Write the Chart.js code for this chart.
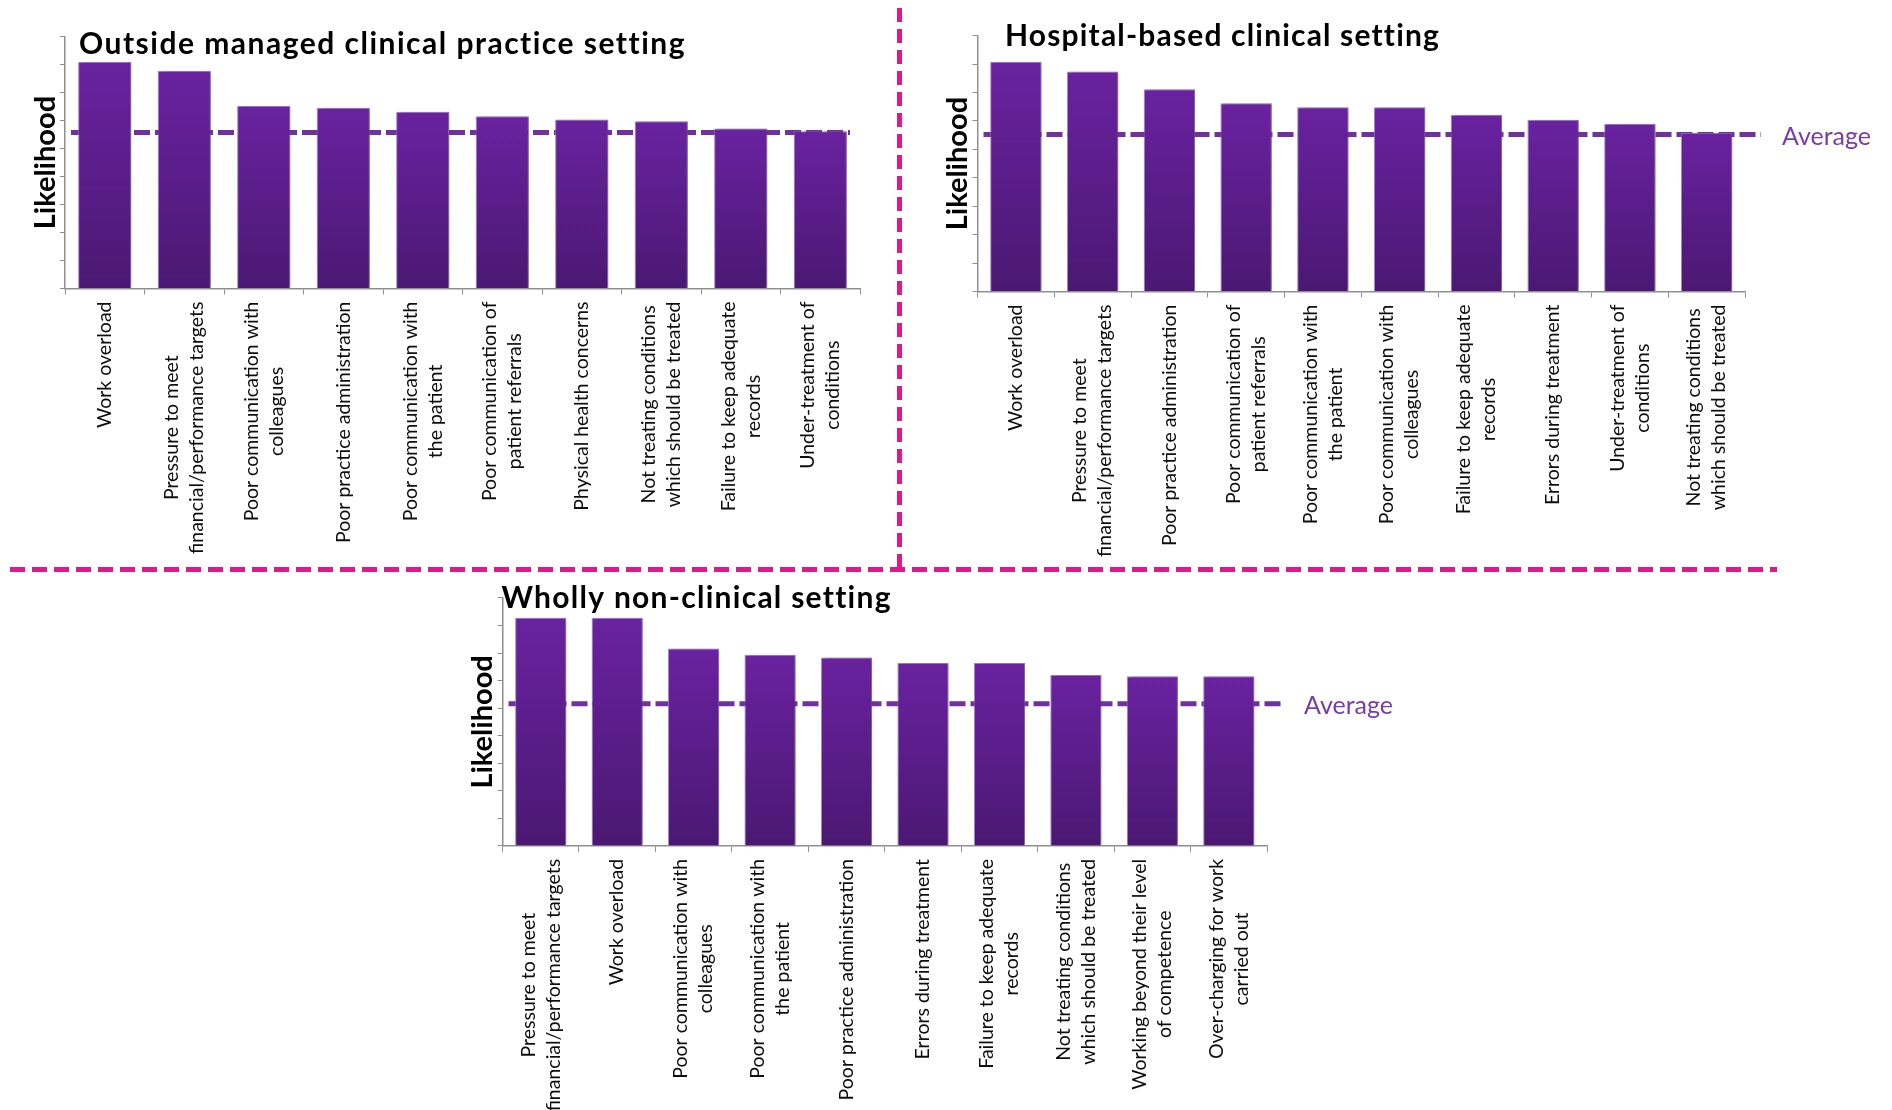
<!DOCTYPE html>
<html lang="en">

<head>
    <meta charset="UTF-8">
    <title>Likelihood of concerns by setting</title>
    <script src="https://cdn.jsdelivr.net/npm/chart.js"></script>
    <style>
        body {
            margin: 0;
            width: 1892px;
            height: 1110px;
            background: #fff;
            position: relative;
            overflow: hidden;
            font-family: Lato, sans-serif;
        }

        .panel {
            position: absolute;
        }

        /* magenta dashed dividers between the three panels */
        .divider-v {
            position: absolute;
            left: 897px;
            top: 8px;
            width: 5px;
            height: 564px;
            background: repeating-linear-gradient(to bottom, #dc1a8e 0 14px, transparent 14px 21px);
        }

        .divider-h {
            position: absolute;
            left: 10px;
            top: 567px;
            width: 1767px;
            height: 5px;
            background: repeating-linear-gradient(to right, #dc1a8e 0 15px, transparent 15px 22px);
        }
    </style>
</head>

<body>
    <div class="panel" style="left:0;top:0;width:900px;height:580px"><canvas id="outsideChart"></canvas></div>
    <div class="panel" style="left:900px;top:0;width:992px;height:580px"><canvas id="hospitalChart"></canvas></div>
    <div class="panel" style="left:400px;top:570px;width:1000px;height:540px"><canvas id="nonClinicalChart"></canvas></div>
    <div class="divider-v"></div>
    <div class="divider-h"></div>

    <script>
        // likelihood scale
        const yMax = 4.5;
        const yStep = 0.5;

        // Outside managed clinical practice setting
        const outsideLabels = [
            'Work overload',
            ['Pressure to meet', 'financial/performance targets'],
            ['Poor communication with', 'colleagues'],
            'Poor practice administration',
            ['Poor communication with', 'the patient'],
            ['Poor communication of', 'patient referrals'],
            'Physical health concerns',
            ['Not treating conditions', 'which should be treated'],
            ['Failure to keep adequate', 'records'],
            ['Under-treatment of', 'conditions']
        ];
        const outsideValues = [4.05, 3.89, 3.26, 3.23, 3.16, 3.08, 3.02, 2.99, 2.86, 2.81];
        const outsideAverage = 2.79;

        // Hospital-based clinical setting
        const hospitalLabels = [
            'Work overload',
            ['Pressure to meet', 'financial/performance targets'],
            'Poor practice administration',
            ['Poor communication of', 'patient referrals'],
            ['Poor communication with', 'the patient'],
            ['Poor communication with', 'colleagues'],
            ['Failure to keep adequate', 'records'],
            'Errors during treatment',
            ['Under-treatment of', 'conditions'],
            ['Not treating conditions', 'which should be treated']
        ];
        const hospitalValues = [4.04, 3.87, 3.56, 3.31, 3.24, 3.24, 3.11, 3.02, 2.95, 2.79];
        const hospitalAverage = 2.76;

        // Wholly non-clinical setting
        const nonClinicalLabels = [
            ['Pressure to meet', 'financial/performance targets'],
            'Work overload',
            ['Poor communication with', 'colleagues'],
            ['Poor communication with', 'the patient'],
            'Poor practice administration',
            'Errors during treatment',
            ['Failure to keep adequate', 'records'],
            ['Not treating conditions', 'which should be treated'],
            ['Working beyond their level', 'of competence'],
            ['Over-charging for work', 'carried out']
        ];
        const nonClinicalValues = [4.14, 4.14, 3.58, 3.47, 3.42, 3.32, 3.32, 3.10, 3.08, 3.08];
        const nonClinicalAverage = 2.58;

        const PURPLE = '#7030a0';
        const AXIS_GREY = '#8f8f8f';

        // dashed average line, drawn behind the bars
        const averageLine = {
            id: 'averageLine',
            beforeDatasetsDraw(chart, args, opts) {
                const { ctx, chartArea, scales: { y } } = chart;
                const py = y.getPixelForValue(opts.value);
                ctx.save();
                ctx.strokeStyle = PURPLE;
                ctx.lineWidth = 5;
                ctx.setLineDash([16, 5]);
                ctx.beginPath();
                ctx.moveTo(chartArea.left + 6, py);
                ctx.lineTo(chartArea.right + opts.overhang, py);
                ctx.stroke();
                if (opts.label) {
                    ctx.setLineDash([]);
                    ctx.fillStyle = '#7a3aaa';
                    ctx.font = '25px Lato, sans-serif';
                    ctx.textBaseline = 'middle';
                    ctx.fillText(opts.label, chartArea.right + opts.labelGap, py + 2);
                }
                ctx.restore();
            }
        };

        // soft shadow on the right side of each bar
        const barShadow = {
            id: 'barShadow',
            beforeDatasetsDraw(chart) {
                const c = chart.ctx;
                c.save();
                c.shadowColor = 'rgba(0,0,0,0.28)';
                c.shadowBlur = 4;
                c.shadowOffsetX = 3;
                c.shadowOffsetY = 0;
            },
            afterDatasetsDraw(chart) {
                chart.ctx.restore();
            }
        };

        // panel heading sitting inside the top of the plot area
        const panelTitle = {
            id: 'panelTitle',
            afterDraw(chart, args, opts) {
                const { ctx, chartArea } = chart;
                ctx.save();
                ctx.font = 'bold 30px Lato, sans-serif';
                ctx.fillStyle = '#000';
                const w = ctx.measureText(opts.text).width;
                ctx.letterSpacing = ((opts.width - w) / (opts.text.length - 1)).toFixed(2) + 'px';
                ctx.fillText(opts.text, chartArea.left + opts.dx, chartArea.top + opts.dy);
                ctx.restore();
            }
        };

        // rotated category labels, lines centred on each other
        const stackedTicks = {
            id: 'stackedTicks',
            afterDraw(chart, args, opts) {
                const { ctx, scales: { x } } = chart;
                ctx.save();
                ctx.font = opts.size + 'px Lato, sans-serif';
                ctx.fillStyle = '#0d0d0d';
                ctx.textAlign = 'center';
                ctx.textBaseline = 'middle';
                chart.data.labels.forEach((label, i) => {
                    const lines = [].concat(label);
                    const w = Math.max(...lines.map(l => ctx.measureText(l).width));
                    ctx.save();
                    ctx.translate(x.getPixelForTick(i), x.top + opts.gap);
                    ctx.rotate(-Math.PI / 2);
                    lines.forEach((line, j) => {
                        ctx.fillText(line, -w / 2, (j - (lines.length - 1) / 2) * opts.lineHeight);
                    });
                    ctx.restore();
                });
                ctx.restore();
            }
        };

        function barFill(context) {
            const { chart, parsed } = context;
            const area = chart.chartArea;
            if (!area || !parsed) return '#5c1e8c';
            const top = chart.scales.y.getPixelForValue(parsed.y);
            const g = chart.ctx.createLinearGradient(0, top, 0, area.bottom);
            g.addColorStop(0, '#6a22a0');
            g.addColorStop(1, '#4a1872');
            return g;
        }

        function makeChart(id, labels, values, average, layout) {
            return new Chart(document.getElementById(id), {
                type: 'bar',
                data: {
                    labels: labels,
                    datasets: [{
                        data: values,
                        backgroundColor: barFill,
                        borderColor: 'rgba(150,110,195,0.85)',
                        borderWidth: 1,
                        categoryPercentage: 1,
                        barPercentage: 0.67
                    }]
                },
                options: {
                    responsive: true,
                    maintainAspectRatio: false,
                    animation: false,
                    layout: { padding: { top: layout.top, right: layout.right, bottom: 0, left: 0 } },
                    scales: {
                        x: {
                            ticks: { display: false },
                            grid: { drawOnChartArea: false, tickLength: 6, color: AXIS_GREY, offset: true },
                            border: { color: AXIS_GREY, width: 1.5 },
                            afterFit(scale) { scale.height = layout.xHeight; }
                        },
                        y: {
                            min: 0,
                            max: yMax,
                            ticks: { stepSize: yStep, display: false },
                            grid: { drawOnChartArea: false, tickLength: 5, color: AXIS_GREY },
                            border: { color: AXIS_GREY, width: 1.5 },
                            title: {
                                display: true,
                                text: 'Likelihood',
                                color: '#000',
                                font: { family: 'Lato, sans-serif', size: 29, weight: 'bold' },
                                padding: { top: layout.yWidth - 37, bottom: 0 }
                            },
                            afterFit(scale) { scale.width = layout.yWidth; }
                        }
                    },
                    plugins: {
                        legend: { display: false },
                        tooltip: { enabled: false },
                        averageLine: { value: average, overhang: layout.overhang, label: layout.avgLabel, labelGap: 37 },
                        panelTitle: { text: layout.title, width: layout.titleWidth, dx: layout.titleDx, dy: layout.titleDy },
                        stackedTicks: { size: 19.5, lineHeight: 25, gap: 13 }
                    }
                },
                plugins: [averageLine, barShadow, panelTitle, stackedTicks]
            });
        }

        makeChart('outsideChart', outsideLabels, outsideValues, outsideAverage, {
            top: 36.7, right: 40, xHeight: 291.5, yWidth: 65,
            overhang: -10, avgLabel: null,
            title: 'Outside managed clinical practice setting', titleWidth: 605, titleDx: 14, titleDy: 17
        });

        makeChart('hospitalChart', hospitalLabels, hospitalValues, hospitalAverage, {
            top: 35.7, right: 147, xHeight: 288.5, yWidth: 77.5,
            overhang: 16, avgLabel: 'Average',
            title: 'Hospital-based clinical setting', titleWidth: 433, titleDx: 27.5, titleDy: 10
        });

        makeChart('nonClinicalChart', nonClinicalLabels, nonClinicalValues, nonClinicalAverage, {
            top: 27.9, right: 133, xHeight: 264.1, yWidth: 102.5,
            overhang: 14, avgLabel: 'Average',
            title: 'Wholly non-clinical setting', titleWidth: 388, titleDx: -1, titleDy: 10
        });
    </script>
</body>

</html>
